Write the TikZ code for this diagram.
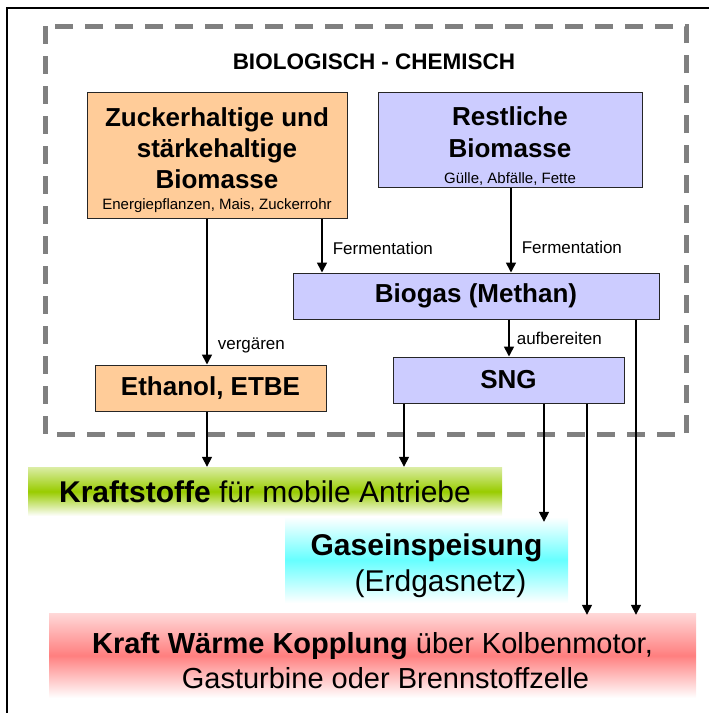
\documentclass[tikz,border=0pt]{standalone}
\usepackage{fontspec}
\setmainfont{Liberation Sans}
\usetikzlibrary{arrows.meta}

\definecolor{zuckerorange}{HTML}{FFCC99}
\definecolor{restblau}{HTML}{CCCCFF}
\definecolor{rahmengrau}{HTML}{808080}
\definecolor{kraftgruen}{HTML}{99CC00}
\definecolor{gascyan}{HTML}{66FFFF}
\definecolor{kwkrot}{HTML}{FF7F7F}

\begin{document}
\begin{tikzpicture}[x=1pt,y=-1pt,
						every node/.style={inner sep=0pt},
						obox/.style={draw=black!85,fill=zuckerorange,line width=1pt,
						align=center,font=\fontsize{26}{31}\selectfont\bfseries},
						bbox/.style={draw=black!85,fill=restblau,line width=1pt,
						align=center,font=\fontsize{26}{32}\selectfont\bfseries},
						pfeil/.style={line width=1.6pt,-{Triangle[width=10pt,length=10pt]}},
						beschr/.style={font=\fontsize{17}{20}\selectfont},
						band/.style={align=center,font=\fontsize{30}{36}\selectfont}]

		\useasboundingbox (0,0) rectangle (709,713);
		\draw[line width=1.5pt] (709,8) -- (7,8) -- (7,713);

		\draw[rahmengrau, line width=5pt, dash pattern=on 18pt off 12pt]
			(45,26) rectangle (686,434);
		\node[anchor=base, font=\fontsize{22.5}{27}\selectfont\bfseries] (titel) at (374,69) {BIOLOGISCH - CHEMISCH};

		\node[obox, minimum width=260, minimum height=126] (zucker) at (217,155)
			{\rule{0pt}{28.5pt}Zuckerhaltige und\\stärkehaltige\\Biomasse\\[-10pt]{\fontsize{15}{18}\selectfont\mdseries Energiepflanzen, Mais, Zuckerrohr}};
		\node[bbox, minimum width=264, minimum height=95] (rest) at (510,139.5)
			{\rule{0pt}{32pt}Restliche\\Biomasse\\[-6pt]{\fontsize{15}{18}\selectfont\mdseries Gülle, Abfälle, Fette}};
		\node[bbox, minimum width=366, minimum height=46] (biogas) at (476,296) {Biogas (Methan)};
		\node[obox, minimum width=231, minimum height=46] (ethanol) at (210.5,388) {Ethanol, ETBE};
		\node[bbox, minimum width=231, minimum height=46] (sng) at (508.5,380) {SNG};

		\node[band, minimum width=474, minimum height=49, top color=kraftgruen!35,
			bottom color=white, middle color=kraftgruen] (kraftstoffe) at (265,491.5)
			{\textbf{Kraftstoffe} für mobile Antriebe};
		\node[band, minimum width=283, minimum height=86, top color=white,
			bottom color=white, middle color=gascyan] (gasnetz) at (426.5,560)
			{\rule{0pt}{34pt}\textbf{Gaseinspeisung}\\\hspace*{28pt}(Erdgasnetz)};
		\node[band, minimum width=647, minimum height=85, font=\fontsize{29}{35}\selectfont,
			top color=kwkrot!30, bottom color=white, middle color=kwkrot] (kwk) at (372.5,655.5)
			{\rule{0pt}{32pt}\textbf{Kraft Wärme Kopplung} über Kolbenmotor,\\\hspace*{26pt}Gasturbine oder Brennstoffzelle};

		\draw[pfeil] (zucker.south -| 207,0) -- node[beschr, pos=0.87, anchor=west, xshift=10pt] (vergaeren) {vergären} (ethanol.north -| 207,0);
		\draw[pfeil] (zucker.south -| 322,0) -- node[beschr, pos=0.55, anchor=west, xshift=10pt] (ferm1) {Fermentation} (biogas.north -| 322,0);
		\draw[pfeil] (rest.south -| 511,0) -- node[beschr, pos=0.71, anchor=west, xshift=10pt] (ferm2) {Fermentation} (biogas.north -| 511,0);
		\draw[pfeil] (biogas.south -| 509,0) -- node[beschr, anchor=west, xshift=7pt] (aufb) {aufbereiten} (sng.north -| 509,0);

		\draw[pfeil] (ethanol.south -| 207,0) -- (kraftstoffe.north -| 207,0);
		\draw[pfeil] (sng.south -| 404,0) -- (kraftstoffe.north -| 404,0);
		\draw[pfeil] (sng.south -| 544,0) -- ([yshift=-5pt]gasnetz.north -| 544,0);
		\draw[pfeil] (sng.south -| 587,0) -- ([yshift=-2pt]kwk.north -| 587,0);
		\draw[pfeil] (biogas.south -| 636,0) -- ([yshift=-2pt]kwk.north -| 636,0);

	\end{tikzpicture}
\end{document}
